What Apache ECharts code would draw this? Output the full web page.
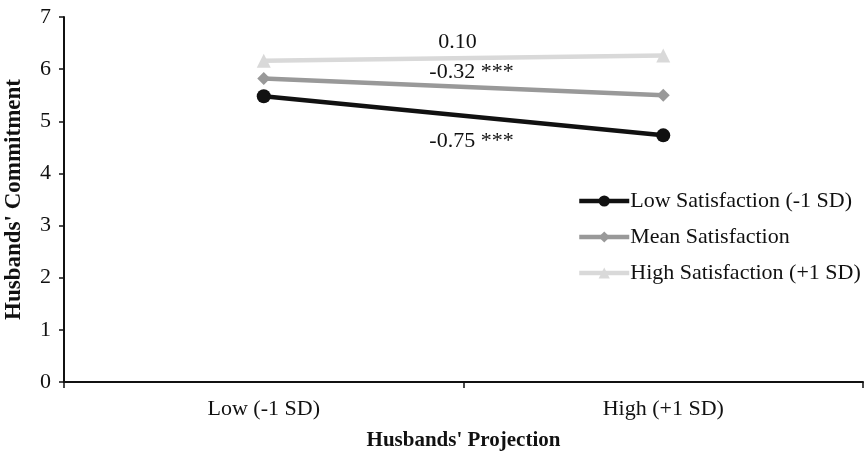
<!DOCTYPE html>
<html>
<head>
<meta charset="utf-8">
<script src="https://cdn.jsdelivr.net/npm/echarts@6/dist/echarts.min.js"></script>
<style>
  html, body { margin: 0; padding: 0; background: #fff; }
  #chart { width: 866px; height: 455px; }
</style>
</head>
<body>
<div id="chart"></div>
<script>
// Simple-slopes plot: commitment by projection at three satisfaction levels
const categories = ['Low (-1 SD)', 'High (+1 SD)'];
const seriesNames = ['Low Satisfaction (-1 SD)', 'Mean Satisfaction', 'High Satisfaction (+1 SD)'];
const lowSatisfaction = [5.48, 4.73];
const meanSatisfaction = [5.82, 5.50];
const highSatisfaction = [6.16, 6.26];
const yTicks = [0, 1, 2, 3, 4, 5, 6, 7];
const slopeLabels = ['-0.75 ***', '-0.32 ***', '0.10'];

const FONT = '"Liberation Serif", "Times New Roman", serif';

const chart = echarts.init(document.getElementById('chart'), null, { renderer: 'canvas' });

function lineSeries(name, data, color, symbol, size) {
  return {
    name: name,
    type: 'line',
    data: data,
    symbol: symbol,
    symbolSize: size,
    lineStyle: { color: color, width: 4.5 },
    itemStyle: { color: color },
    z: 3
  };
}

const option = {
  animation: false,
  backgroundColor: '#fff',
  grid: { left: 64, right: 3, top: 17, bottom: 73, containLabel: false, outerBoundsMode: 'none' },
  legend: {
    orient: 'vertical',
    left: 572,
    top: 185,
    itemWidth: 50,
    itemHeight: 14,
    itemGap: 14,
    lineStyle: { width: 4.5 },
    textStyle: { fontFamily: FONT, fontSize: 22, color: '#111', padding: [0, 0, 0, -4] },
    data: seriesNames
  },
  xAxis: {
    type: 'category',
    data: categories,
    boundaryGap: true,
    axisLine: { lineStyle: { color: '#111', width: 2 } },
    axisTick: { show: true, length: 6, alignWithLabel: false, lineStyle: { color: '#111', width: 1.5 } },
    axisLabel: { fontFamily: FONT, fontSize: 22, color: '#111', margin: 16 },
    name: "Husbands' Projection",
    nameLocation: 'middle',
    nameGap: 48,
    nameTextStyle: { fontFamily: FONT, fontSize: 21, fontWeight: 'bold', color: '#111' }
  },
  yAxis: {
    type: 'value',
    min: yTicks[0],
    max: yTicks[yTicks.length - 1],
    interval: 1,
    splitLine: { show: false },
    axisLine: { show: true, lineStyle: { color: '#111', width: 2 } },
    axisTick: { show: true, length: 5, lineStyle: { color: '#111', width: 1.5 } },
    axisLabel: { fontFamily: FONT, fontSize: 22, color: '#111', margin: 13 },
    name: "Husbands' Commitment",
    nameLocation: 'middle',
    nameGap: 38,
    nameTextStyle: { fontFamily: FONT, fontSize: 23, fontWeight: 'bold', color: '#111' }
  },
  series: [
    lineSeries(seriesNames[0], lowSatisfaction, '#111111', 'circle', 14),
    lineSeries(seriesNames[1], meanSatisfaction, '#999999', 'diamond', 13),
    lineSeries(seriesNames[2], highSatisfaction, '#d9d9d9', 'triangle', 14)
  ]
};

chart.setOption(option);

// Slope annotations placed at the midpoint of each line
const seriesData = [lowSatisfaction, meanSatisfaction, highSatisfaction];
const labelOffsets = [[8, 25], [8, -15], [-6, -16]];
const graphics = seriesData.map(function (d, i) {
  const p0 = chart.convertToPixel({ gridIndex: 0 }, [0, d[0]]);
  const p1 = chart.convertToPixel({ gridIndex: 0 }, [1, d[1]]);
  return {
    type: 'text',
    x: (p0[0] + p1[0]) / 2 + labelOffsets[i][0],
    y: (p0[1] + p1[1]) / 2 + labelOffsets[i][1],
    style: {
      text: slopeLabels[i],
      fontFamily: FONT,
      fontSize: 22,
      fill: '#111',
      align: 'center',
      verticalAlign: 'middle'
    },
    z: 10
  };
});
chart.setOption({ graphic: graphics });
</script>
</body>
</html>
